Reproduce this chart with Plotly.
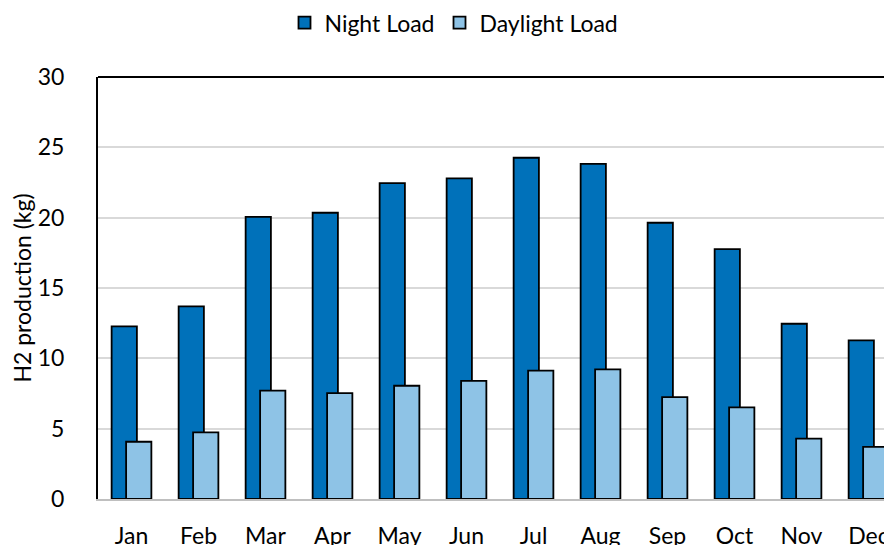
import plotly.graph_objects as go

months = ["Jan", "Feb", "Mar", "Apr", "May", "Jun", "Jul", "Aug", "Sep", "Oct", "Nov", "Dec"]
night_load = [12.27, 13.7, 20.05, 20.35, 22.45, 22.8, 24.26, 23.83, 19.64, 17.77, 12.46, 11.28]
daylight_load = [4.07, 4.74, 7.7, 7.53, 8.05, 8.4, 9.12, 9.22, 7.24, 6.51, 4.29, 3.7]
y_ticks = [0, 5, 10, 15, 20, 25, 30]

FONT = "Lato, 'Open Sans', sans-serif"
W = 0.377

fig = go.Figure()
fig.add_trace(go.Bar(
    x=months, y=night_load, name="Night Load",
    width=W, offset=-0.108 - W / 2,
    marker=dict(color="#0071BA", line=dict(color="black", width=1.8)),
))
fig.add_trace(go.Bar(
    x=months, y=daylight_load, name="Daylight Load",
    width=W, offset=0.108 - W / 2,
    marker=dict(color="#8EC3E6", line=dict(color="black", width=1.8)),
))

fig.update_layout(
    width=892, height=545,
    margin=dict(l=90, r=0, t=69, b=54),
    barmode="overlay",
    plot_bgcolor="white", paper_bgcolor="white",
    font=dict(family=FONT, size=23, color="black"),
    legend=dict(orientation="h", xref="container", yref="container",
                x=0.50, xanchor="center", y=0.973, yanchor="middle",
                font=dict(size=23), itemwidth=30, traceorder="normal"),
    xaxis=dict(range=[-0.5, 11.47], showgrid=False, showline=True,
               linecolor="#BFBFBF", linewidth=2, ticks="", automargin=False,
               ticklabelstandoff=15, tickfont=dict(size=23)),
    yaxis=dict(range=[0, 30], tickvals=y_ticks, showgrid=True,
               gridcolor="#D9D9D9", gridwidth=1.5, showline=True,
               linecolor="black", linewidth=2, ticks="", automargin=False,
               ticklabelstandoff=27, zeroline=False,
               title=dict(text="H2 production (kg)", font=dict(size=23), standoff=9),
               tickfont=dict(size=23)),
    shapes=[dict(type="line", xref="paper", yref="paper", x0=0, x1=1, y0=1, y1=1,
                 line=dict(color="black", width=2))],
)

fig.write_html("out.html")
